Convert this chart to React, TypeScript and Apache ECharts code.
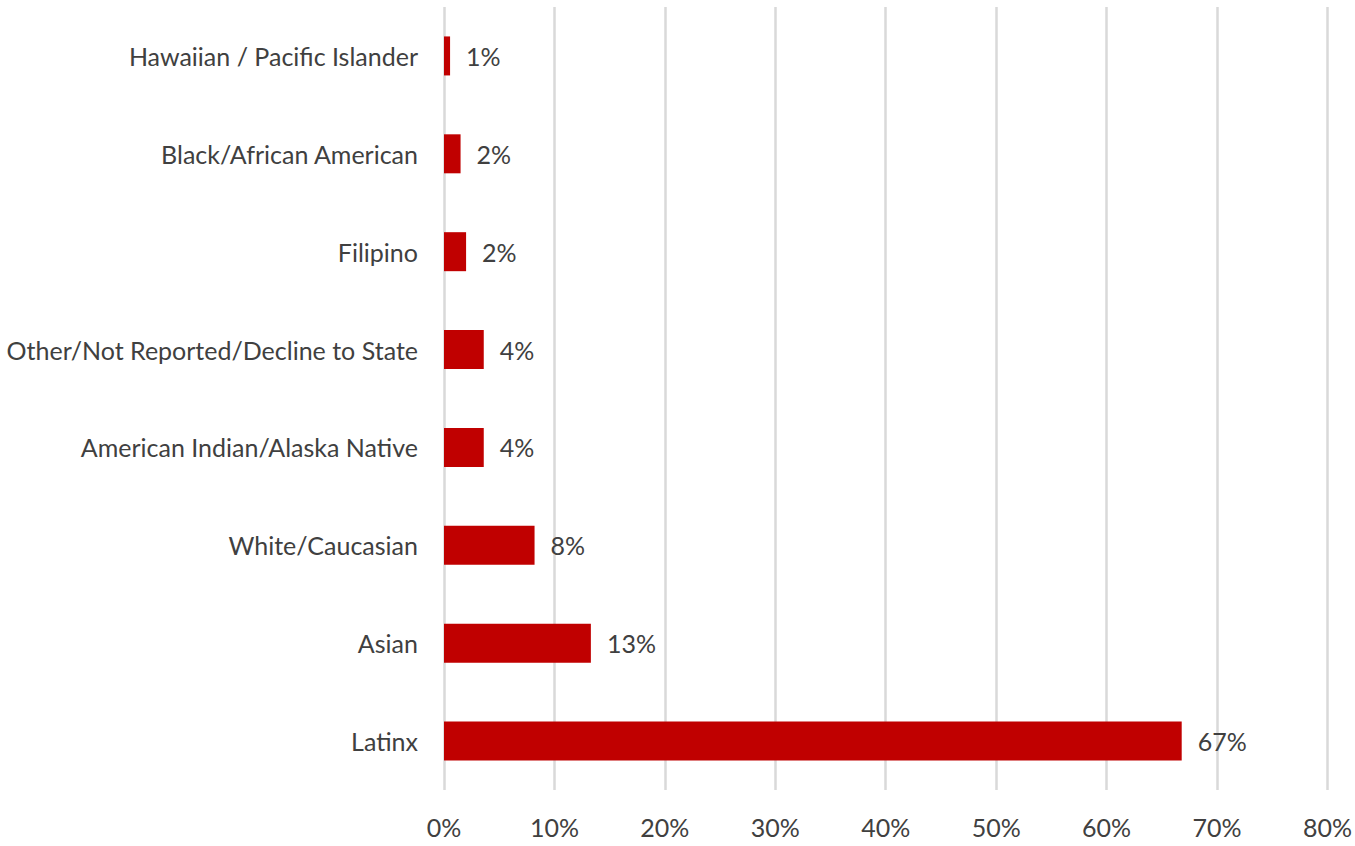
import React, { useEffect, useRef } from "react";
import * as echarts from "echarts";

const categories = [
  "Latinx",
  "Asian",
  "White/Caucasian",
  "American Indian/Alaska Native",
  "Other/Not Reported/Decline to State",
  "Filipino",
  "Black/African American",
  "Hawaiian / Pacific Islander",
];
const values = [66.8, 13.3, 8.2, 3.6, 3.6, 2.0, 1.5, 0.55];
const valueLabels = ["67%", "13%", "8%", "4%", "4%", "2%", "2%", "1%"];
const xTicks = [0, 10, 20, 30, 40, 50, 60, 70, 80];

const FONT = "Lato, 'Noto Sans', sans-serif";
const TEXT = "#404040";

export default function App() {
  const ref = useRef<HTMLDivElement>(null);
  useEffect(() => {
    if (!ref.current) return;
    const chart = echarts.init(ref.current, null, { renderer: "svg" });
    chart.setOption({
      animation: false,
      grid: { left: 444, right: 23, top: 7, bottom: 56, containLabel: false },
      xAxis: {
        type: "value",
        min: xTicks[0],
        max: xTicks[xTicks.length - 1],
        interval: 10,
        axisLine: { show: false },
        axisTick: { show: false },
        splitLine: { show: true, lineStyle: { color: "#d9d9d9", width: 2.5 } },
        axisLabel: {
          formatter: (v: number) => `${v}%`,
          color: TEXT,
          fontFamily: FONT,
          fontSize: 25,
          margin: 24,
        },
      },
      yAxis: {
        type: "category",
        data: categories,
        axisLine: { show: false },
        axisTick: { show: false },
        splitLine: { show: false },
        axisLabel: {
          color: TEXT,
          fontFamily: FONT,
          fontSize: 25,
          margin: 26,
        },
      },
      series: [
        {
          type: "bar",
          data: values,
          barWidth: 39,
          itemStyle: { color: "#C00000" },
          label: {
            show: true,
            position: "right",
            distance: 16,
            color: TEXT,
            fontFamily: FONT,
            fontSize: 25,
            formatter: (p: any) => valueLabels[p.dataIndex],
          },
        },
      ],
    });
    return () => chart.dispose();
  }, []);
  return <div ref={ref} style={{ width: 1355, height: 846, position: "absolute", left: 0, top: 0 }} />;
}
